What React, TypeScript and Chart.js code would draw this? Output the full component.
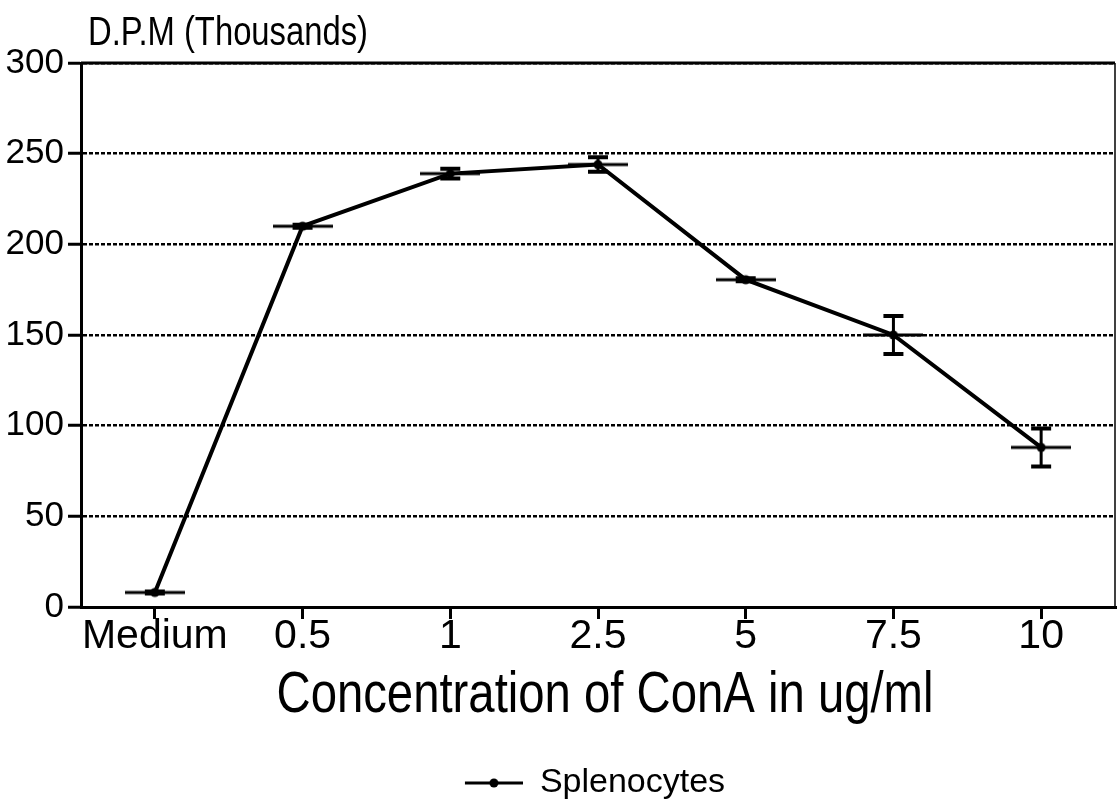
import { useEffect, useRef } from "react";
import { Chart, registerables } from "chart.js";

Chart.register(...registerables);

// ---- data ----
const categories = ["Medium", "0.5", "1", "2.5", "5", "7.5", "10"];
const splenocytes = [8, 210, 239, 244, 180.5, 150, 88];
const splenocyteErrors = [0.6, 0.8, 2.7, 4, 0.8, 10.5, 10.5];
const yMin = 0;
const yMax = 300;
const yStep = 50;
const seriesLabel = "Splenocytes";
const yTitle = "D.P.M (Thousands)";
const xTitle = "Concentration of ConA in ug/ml";

const FONT = "'Liberation Sans', Arial, sans-serif";

function makeMarker(width: number, lineStart: number, lineLen: number) {
  const c = document.createElement("canvas");
  c.width = width;
  c.height = 12;
  const g = c.getContext("2d")!;
  g.fillStyle = "#000";
  g.fillRect(lineStart, 4.5, lineLen, 3);
  g.beginPath();
  g.arc(lineStart + lineLen / 2, 6, 4.5, 0, Math.PI * 2);
  g.fill();
  return c;
}

const errorBarPlugin = {
  id: "errorBars",
  afterDatasetsDraw(chart: any) {
    const { ctx, scales } = chart;
    const x = scales.x;
    const y = scales.y;
    ctx.save();
    ctx.strokeStyle = "#000";
    splenocytes.forEach((v, i) => {
      const e = splenocyteErrors[i];
      const px = x.getPixelForValue(i);
      const top = y.getPixelForValue(v + e);
      const bot = y.getPixelForValue(v - e);
      ctx.lineWidth = 3;
      ctx.beginPath();
      ctx.moveTo(px, top);
      ctx.lineTo(px, bot);
      ctx.stroke();
      ctx.lineWidth = 4;
      ctx.beginPath();
      ctx.moveTo(px - 10, top);
      ctx.lineTo(px + 10, top);
      ctx.moveTo(px - 10, bot);
      ctx.lineTo(px + 10, bot);
      ctx.stroke();
    });
    ctx.restore();
  },
};

const framePlugin = {
  id: "frame",
  beforeDatasetsDraw(chart: any) {
    const { ctx, chartArea } = chart;
    ctx.save();
    ctx.strokeStyle = "#000";
    ctx.lineWidth = 3;
    ctx.beginPath();
    ctx.moveTo(chartArea.left, chartArea.top);
    ctx.lineTo(chartArea.right, chartArea.top);
    ctx.stroke();
    ctx.lineWidth = 1.5;
    ctx.beginPath();
    ctx.moveTo(chartArea.right, chartArea.top);
    ctx.lineTo(chartArea.right, chartArea.bottom);
    ctx.stroke();
    ctx.restore();
  },
};

const titlesPlugin = {
  id: "titles",
  afterDraw(chart: any) {
    const { ctx, chartArea } = chart;
    ctx.save();
    ctx.fillStyle = "#000";
    ctx.textBaseline = "alphabetic";
    // y-axis title, above the plot
    ctx.font = `40px ${FONT}`;
    ctx.textAlign = "left";
    ctx.fillText(yTitle, chartArea.left + 7, chartArea.top - 18, 280);
    // x-axis title, below the tick labels
    ctx.font = `58px ${FONT}`;
    ctx.textAlign = "center";
    const cx = (chartArea.left + chartArea.right) / 2 + 7;
    ctx.fillText(xTitle, cx, chartArea.bottom + 105, 657);
    ctx.restore();
  },
};

export default function App() {
  const ref = useRef<HTMLCanvasElement>(null);

  useEffect(() => {
    document.body.style.margin = "0";
    const canvas = ref.current;
    if (!canvas) return;
    const pointImg = makeMarker(60, 0, 60);
    const legendW = 133;
    const legendImg = makeMarker(legendW, 75, 58);

    const chart = new Chart(canvas, {
      type: "line",
      data: {
        labels: categories,
        datasets: [
          {
            label: seriesLabel,
            data: splenocytes,
            borderColor: "#000",
            backgroundColor: "#000",
            borderWidth: 4,
            pointStyle: pointImg as any,
            pointRadius: 30,
            pointHoverRadius: 30,
            tension: 0,
            fill: false,
          },
        ],
      },
      options: {
        responsive: false,
        animation: false,
        devicePixelRatio: 1,
        layout: { autoPadding: false, padding: { top: 63, right: 2, bottom: 0, left: 0 } },
        plugins: {
          tooltip: { enabled: false },
          title: { display: false },
          legend: {
            display: true,
            position: "bottom",
            align: "center",
            labels: {
              color: "#000",
              font: { family: FONT, size: 34 },
              padding: 40,
              usePointStyle: true,
              pointStyleWidth: legendW,
              generateLabels: (c: any) => {
                const items = (Chart.defaults.plugins.legend.labels as any).generateLabels(c);
                return items.map((it: any) => ({ ...it, pointStyle: legendImg, lineWidth: 0 }));
              },
            },
          },
        },
        scales: {
          x: {
            type: "category",
            offset: true,
            afterFit: (s: any) => {
              s.height = 119;
              s.paddingLeft = 0;
              s.paddingRight = 0;
            },
            grid: {
              display: true,
              offset: false,
              drawOnChartArea: false,
              drawTicks: true,
              tickLength: 12,
              tickWidth: 3,
              color: "#000",
              lineWidth: 3,
            },
            border: { display: true, color: "#000", width: 3 },
            ticks: {
              color: "#000",
              padding: 1,
              maxRotation: 0,
              autoSkip: false,
              font: { family: FONT, size: 41, lineHeight: 0.8 },
            },
            title: { display: false },
          },
          y: {
            min: yMin,
            max: yMax,
            afterFit: (s: any) => {
              s.width = 81;
            },
            ticks: {
              stepSize: yStep,
              color: "#000",
              padding: 4,
              font: { family: FONT, size: 35 },
            },
            grid: {
              color: "#000",
              lineWidth: 2.5,
              tickLength: 13,
              tickWidth: 3,
              tickBorderDash: [],
            },
            border: { display: true, color: "#000", width: 3, dash: [4, 2] },
          },
        },
      },
      plugins: [framePlugin, errorBarPlugin, titlesPlugin],
    } as any);

    return () => chart.destroy();
  }, []);

  return <canvas ref={ref} width={1117} height={810} style={{ display: "block" }} />;
}
